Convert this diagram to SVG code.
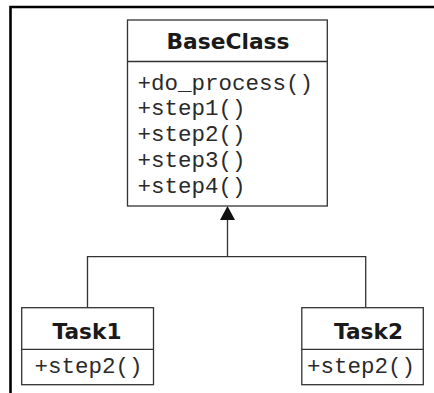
<svg xmlns="http://www.w3.org/2000/svg" width="434" height="393" viewBox="0 0 434 393">
<defs>
<style>
.box{fill:#fff;stroke:#333;stroke-width:1.3}
.div{stroke:#333;stroke-width:1.3}
.ttl{font-family:"DejaVu Sans","Liberation Sans",Arial,sans-serif;font-weight:bold;font-size:22px;fill:#1a1a1a;text-anchor:middle}
.m{font-family:"Liberation Mono","Courier New",monospace;font-size:22.5px;fill:#2a2a2a}
.ln{stroke:#333;stroke-width:1.3;fill:none}
</style>
</defs>
<rect width="434" height="393" fill="#fff"/>
<path d="M10.5 393 V7 H434" fill="none" stroke="#000" stroke-width="2.6"/>
<g id="connectors">
<path class="ln" d="M227.5 220 V256.7"/>
<path d="M227.5 206 L235 220 L220 220 Z" fill="#111"/>
<path class="ln" d="M87.5 307.7 V256.7 H365.7 V307.7"/>
</g>
<g id="BaseClass">
<rect class="box" x="127.5" y="20" width="199.8" height="186"/>
<line class="div" x1="127.5" y1="61.5" x2="327.3" y2="61.5"/>
<text class="ttl" x="228" y="49.3" textLength="123" lengthAdjust="spacingAndGlyphs">BaseClass</text>
<text class="m" x="137.5" y="89.5">+do_process()</text>
<text class="m" x="137.5" y="115.3">+step1()</text>
<text class="m" x="137.5" y="141">+step2()</text>
<text class="m" x="137.5" y="166.8">+step3()</text>
<text class="m" x="137.5" y="192.6">+step4()</text>
</g>
<g id="Task1">
<rect class="box" x="21.7" y="307.7" width="131.8" height="77"/>
<line class="div" x1="21.7" y1="349.3" x2="153.5" y2="349.3"/>
<text class="ttl" x="87" y="339" textLength="69" lengthAdjust="spacingAndGlyphs">Task1</text>
<text class="m" x="34.5" y="373.3">+step2()</text>
</g>
<g id="Task2">
<rect class="box" x="301.8" y="307.7" width="121.5" height="77"/>
<line class="div" x1="301.8" y1="349.3" x2="423.3" y2="349.3"/>
<text class="ttl" x="368.5" y="339" textLength="69" lengthAdjust="spacingAndGlyphs">Task2</text>
<text class="m" x="307" y="373.3">+step2()</text>
</g>
</svg>
